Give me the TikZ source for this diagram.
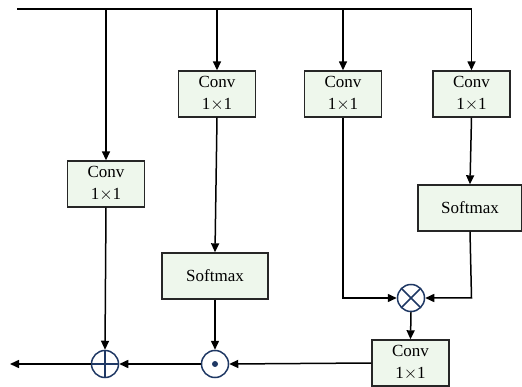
\documentclass[tikz,border=0pt]{standalone}
\usepackage{fontspec}
\setmainfont{Liberation Serif}
\usetikzlibrary{arrows.meta}
\definecolor{boxfill}{HTML}{EEF7EC}
\definecolor{opblue}{HTML}{1F3864}
\newcommand{\ox}{1$\times$1}
\begin{document}
\begin{tikzpicture}[x=1pt,y=-1pt,
  box/.style={draw=black!85,line width=1.4pt,fill=boxfill,minimum width=77pt,minimum height=46pt,inner sep=0pt,align=center,font=\fontsize{17}{22}\selectfont},
  wbox/.style={box,minimum width=104pt},
  op/.style={circle,draw=opblue,line width=1.5pt,minimum size=27pt,inner sep=0pt},
  conn/.style={line width=1.5pt},
  arr/.style={conn,-{Triangle[length=9pt,width=8pt]}}]
\useasboundingbox (0,0) rectangle (522,387);
% boxes
\node[box] (c1) at (217,94) {Conv\\\ox};
\node[box] (c2) at (343,94) {Conv\\\ox};
\node[box] (c3) at (471.5,94) {Conv\\\ox};
\node[box] (cl) at (106,184) {Conv\\\ox};
\node[wbox] (sr) at (470,208) {Softmax};
\node[wbox,minimum width=106pt] (sm) at (215,276) {Softmax};
\node[box] (cb) at (410.5,363) {Conv\\\ox};
% operators
\node[op,path picture={\draw[opblue,line width=1.5pt] (path picture bounding box.north) -- (path picture bounding box.south) (path picture bounding box.west) -- (path picture bounding box.east);}] (plus) at (105,364) {};
\node[op,path picture={\fill[opblue] (path picture bounding box.center) circle (3pt);}] (dot) at (215,364) {};
\node[op,path picture={\draw[opblue,line width=1.5pt] (path picture bounding box.north west) -- (path picture bounding box.south east) (path picture bounding box.north east) -- (path picture bounding box.south west);}] (times) at (411,298) {};
% coordinates
\coordinate (in) at (17,9);
\coordinate (tl) at (106,9);
\coordinate (t1) at (217,9);
\coordinate (t2) at (343,9);
\coordinate (t3) at (471.5,9);
\coordinate (k2) at (343,298);
\coordinate (k3) at (471.5,298);
\coordinate (out) at (10,364);
% connectors
\draw[conn] (in) -- (t3);
\draw[arr] (t3) -- (c3.north);
\draw[arr] (tl) -- (cl.north);
\draw[arr] (t1) -- (c1.north);
\draw[arr] (t2) -- (c2.north);
\draw[arr] (cl.south) -- (plus.north);
\draw[arr] (c1.south) -- (sm.north);
\draw[arr] (sm.south) -- (dot.north);
\draw[arr] (c2.south) -- (k2) -- (times.west);
\draw[arr] (c3.south) -- (sr.north);
\draw[arr] (sr.south) -- (k3) -- (times.east);
\draw[arr] (times.south) -- (cb.north);
\draw[arr] (cb.west) -- (dot.east);
\draw[arr] (dot.west) -- (plus.east);
\draw[arr] (plus.west) -- (out);
\end{tikzpicture}
\end{document}
